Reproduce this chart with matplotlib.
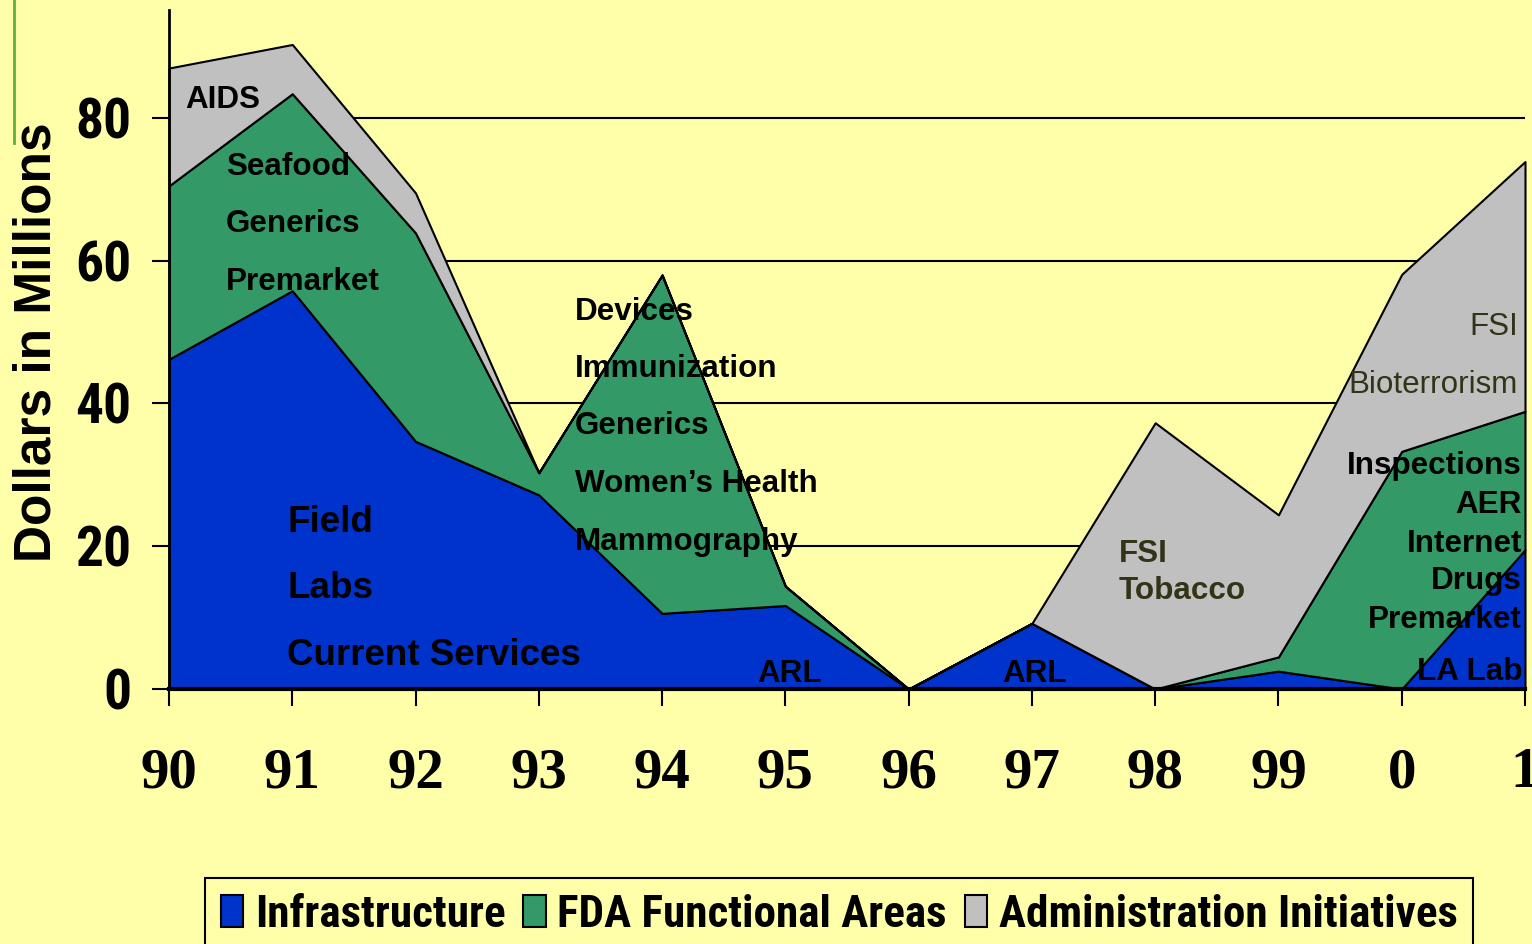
import matplotlib
matplotlib.use('Agg')
import matplotlib.pyplot as plt
from matplotlib import font_manager
from matplotlib.patches import Patch
from matplotlib.lines import Line2D

# budget by year, dollars in millions
years = ['90', '91', '92', '93', '94', '95', '96', '97', '98', '99', '0', '1']
infrastructure = [46.2, 55.8, 34.7, 27.2, 10.6, 11.7, 0, 9.2, 0, 2.5, 0, 19.5]
fda_functional = [24.3, 27.6, 29.2, 3.1, 47.4, 2.7, 0, 0, 0, 2.0, 33.3, 19.4]
admin_initiatives = [16.5, 6.9, 5.6, 0, 0, 0, 0, 0, 37.3, 19.9, 24.8, 35.0]
series_names = ['Infrastructure', 'FDA Functional Areas', 'Administration Initiatives']

BG = '#FFFFAA'
BLUE = '#0033CC'
GREEN = '#339966'
GRAY = '#C0C0C0'
OLIVE = '#333318'

# need a narrow font that has a real bold face
bold_fonts = set(f.name for f in font_manager.fontManager.ttflist if f.weight in (700, 'bold'))
narrow_choices = ['Liberation Sans Narrow', 'Arial Narrow', 'Roboto Condensed', 'Archivo Narrow',
                  'PT Sans Narrow', 'IBM Plex Sans Condensed', 'Open Sans Condensed']
NARROW = [f for f in narrow_choices if f in bold_fonts][:1] + ['DejaVu Sans']
SANS = ['Liberation Sans', 'DejaVu Sans']
SERIF = ['Liberation Serif', 'DejaVu Serif']

W, H = 1532, 944
fig = plt.figure(figsize=(W / 100, H / 100), dpi=100, facecolor=BG)

def px(x0, y0, x1, y1):
    return [x0 / W, 1 - y1 / H, (x1 - x0) / W, (y1 - y0) / H]

ax = fig.add_axes(px(169, 10, 1525, 689))
ax.set_facecolor(BG)

x = list(range(len(years)))
polys = ax.stackplot(x, infrastructure, fda_functional, admin_initiatives,
                     colors=[BLUE, GREEN, GRAY], edgecolor='black', linewidth=1.5, zorder=2)
for p in polys:
    p.set_clip_on(False)

ax.set_xlim(0, len(years) - 1)
ax.set_ylim(0, 95.13)
ax.set_yticks([0, 20, 40, 60, 80])
ax.set_xticks(x)
ax.set_xticklabels(years)
ax.grid(axis='y', color='black', linewidth=1.5)
ax.set_axisbelow(True)

for s in ['top', 'right']:
    ax.spines[s].set_visible(False)
ax.spines['left'].set_linewidth(2)
ax.spines['bottom'].set_linewidth(3)
ax.spines['bottom'].set_zorder(3)

ax.tick_params(axis='x', direction='out', length=12, width=1.5, pad=30)
ax.tick_params(axis='y', direction='out', length=12, width=1.5, pad=15)
for lab in ax.get_xticklabels():
    lab.set_fontfamily(SERIF)
    lab.set_fontweight('bold')
    lab.set_fontsize(41)
for lab in ax.get_yticklabels():
    lab.set_fontfamily(NARROW)
    lab.set_fontweight('bold')
    lab.set_fontsize(40)

fig.text(37 / W, 1 - 342 / H, 'Dollars in Millions', rotation=90, ha='center', va='center',
         fontsize=37, fontweight='bold', family=SANS)

# in-chart annotations (pixel position of left/right edge and baseline)
def note(xp, yp, s, size=22.6, ha='left', color='black', weight='bold'):
    ax.text((xp - 169) / 123.27, (689 - yp) / 7.1375, s, ha=ha, va='baseline',
            fontsize=size, fontweight=weight, color=color, family=SANS, zorder=5)

note(185, 108, 'AIDS')
note(226, 175, 'Seafood')
note(226, 232, 'Generics')
note(226, 290, 'Premarket')
note(287, 532, 'Field', size=26.5)
note(287, 598, 'Labs', size=26.5)
note(287, 665, 'Current Services', size=26.5)
note(575, 320, 'Devices')
note(575, 377, 'Immunization')
note(575, 434, 'Generics')
note(575, 492, 'Women\u2019s Health')
note(575, 550, 'Mammography')
note(757, 682, 'ARL')
note(1002, 682, 'ARL')
note(1119, 562, 'FSI', color=OLIVE)
note(1119, 599, 'Tobacco', color=OLIVE)
note(1518, 335, 'FSI', ha='right', color=OLIVE, weight='normal')
note(1518, 393, 'Bioterrorism', ha='right', color=OLIVE, weight='normal')
note(1522, 474, 'Inspections', ha='right')
note(1522, 513, 'AER', ha='right')
note(1522, 552, 'Internet', ha='right')
note(1522, 589, 'Drugs', ha='right')
note(1522, 628, 'Premarket', ha='right')
note(1522, 680, 'LA Lab', ha='right')

# slide decoration at top left
fig.add_artist(Line2D([14 / W, 14 / W], [1, 1 - 143 / H], color='#66AA44', linewidth=2))

handles = [Patch(facecolor=c, edgecolor='black', linewidth=1.5) for c in [BLUE, GREEN, GRAY]]
leg = fig.legend(handles, series_names, ncol=3, loc='upper left',
                 bbox_to_anchor=(205 / W, 1 - 878 / H), borderaxespad=0,
                 prop={'family': NARROW, 'weight': 'bold', 'size': 32.5},
                 handlelength=0.5, handleheight=0.7, handletextpad=0.25,
                 columnspacing=0.4, borderpad=0.35, fancybox=False,
                 facecolor=BG, edgecolor='black', framealpha=1)
leg.get_frame().set_linewidth(1.5)

fig.savefig('out.png', dpi=100, facecolor=BG)
